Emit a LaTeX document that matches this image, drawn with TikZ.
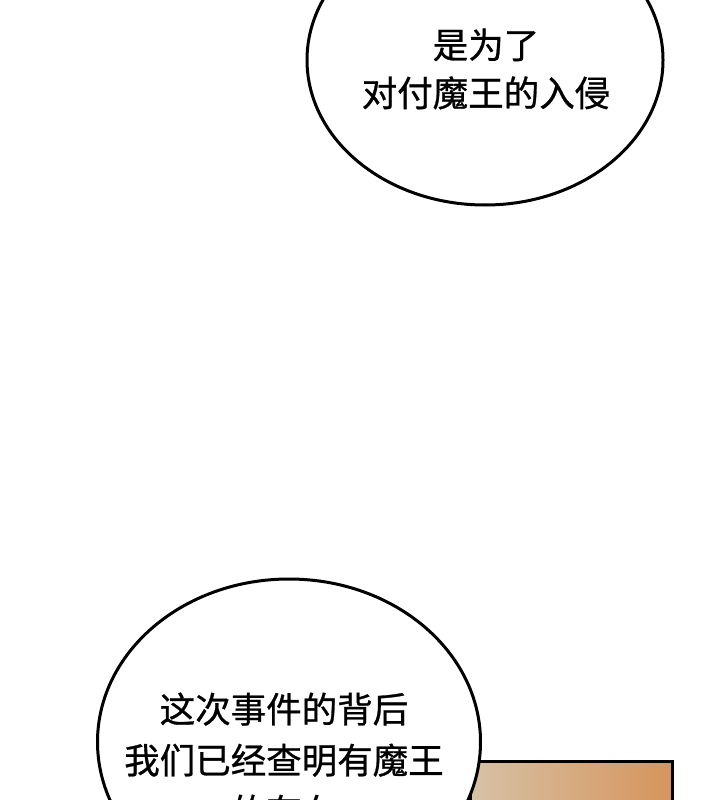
\documentclass[tikz,border=0pt]{standalone}
\usepackage{fontspec}
\newfontfamily\cjk[FakeBold=0.8]{Noto Sans CJK SC}
\usetikzlibrary{shapes.geometric}
\definecolor{panelL}{RGB}{214,194,166}
\definecolor{panelM}{RGB}{205,172,132}
\definecolor{panelR}{RGB}{214,148,92}

\begin{document}
\begin{tikzpicture}[x=1pt, y=-1pt,
	bubble/.style={ellipse, draw, fill=white, line width=3pt, inner sep=0pt},
	speech/.style={align=center, font=\cjk\fontsize{35.5}{#1}\selectfont, inner sep=0pt}]
	\useasboundingbox (0,0) rectangle (720,800);
	\clip (0,0) rectangle (720,800);
	% panel peeking in at the bottom right
	\shade[left color=panelL, middle color=panelM, right color=panelR] (470,761) rectangle (672,805);
	\draw[line width=3pt] (470,805) |- (672,761) -- (672,805);
	\node[bubble, minimum width=356pt, minimum height=290pt] (B1) at (485,60) {};
	\node[speech=48pt] (T1) at (486,69) {是为了\\对付魔王的入侵};
	\node[bubble, minimum width=383pt, minimum height=326pt] (B2) at (289,742) {};
	\node[speech=51pt] (T2) at (284,760) {这次事件的背后\\我们已经查明有魔王\\的存在};
\end{tikzpicture}
\end{document}
